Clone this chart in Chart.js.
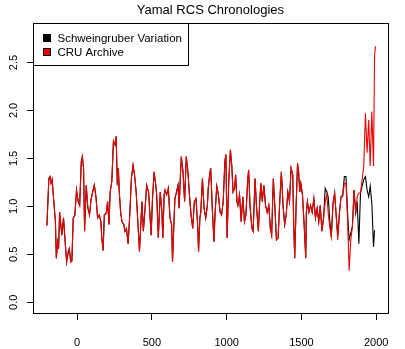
<!DOCTYPE html>
<html>
<head>
<meta charset="utf-8">
<script src="https://cdn.jsdelivr.net/npm/chart.js@4.4.0/dist/chart.umd.min.js"></script>
<style>
  html, body { margin: 0; padding: 0; background: #fff; }
  #wrap { width: 405px; height: 349px; }
</style>
</head>
<body>
<div id="wrap"><canvas id="yamal" width="405" height="349"></canvas></div>
<script>
// values (year, ring-width index)
const years = [
  -202, -189, -182, -174, -167, -156, -145, -139, -130, -124, -117, -109, -102, -91, -80, -70, -59, -52, -43, -35,
  -26, -15, -4, 7, 17, 28, 35, 43, 50, 61, 72, 83, 93, 104, 115, 126, 137, 148, 159, 165,
  174, 182, 195, 204, 213, 221, 232, 243, 254, 261, 269, 276, 282, 291, 300, 313, 319, 330, 341, 352,
  363, 374, 384, 395, 406, 417, 428, 434, 443, 456, 465, 478, 486, 495, 504, 515, 526, 532, 543, 556,
  567, 573, 582, 588, 599, 610, 621, 632, 638, 647, 654, 665, 675, 682, 691, 697, 708, 719, 730, 741,
  751, 762, 773, 784, 795, 806, 812, 821, 827, 838, 849, 860, 871, 877, 886, 893, 904, 915, 923, 934,
  945, 956, 966, 977, 988, 995, 1003, 1014, 1025, 1034, 1043, 1053, 1060, 1069, 1075, 1086, 1097, 1108, 1119, 1129,
  1140, 1147, 1156, 1169, 1177, 1190, 1199, 1212, 1221, 1229, 1238, 1249, 1260, 1271, 1282, 1292, 1301, 1312, 1323, 1333,
  1344, 1355, 1366, 1377, 1388, 1398, 1409, 1420, 1431, 1442, 1448, 1455, 1464, 1474, 1481, 1489, 1496, 1507, 1518, 1529,
  1533, 1540, 1550, 1561, 1572, 1583, 1594, 1605, 1616, 1626, 1637, 1648, 1659, 1670, 1679, 1689, 1700, 1711, 1722, 1733,
  1743, 1754, 1765, 1776, 1787, 1798, 1808, 1819, 1830, 1841, 1852, 1863, 1873, 1884, 1895, 1906, 1917, 1928, 1939, 1950,
  1960, 1971, 1982, 1989, 1995
];

const cruArchive = [
  0.80, 1.29, 1.31, 1.24, 1.28, 1.05, 0.84, 0.46, 0.63, 0.56, 0.94, 0.81, 0.70, 0.88, 0.63, 0.42, 0.53, 0.56, 0.42, 0.43,
  0.88, 0.91, 1.17, 1.05, 1.01, 1.47, 1.52, 1.40, 0.74, 1.22, 0.98, 0.91, 1.07, 1.15, 1.22, 1.10, 0.88, 0.91, 0.84, 0.67,
  0.54, 0.91, 0.93, 1.05, 0.81, 1.15, 1.26, 1.68, 1.64, 1.73, 1.22, 1.40, 1.15, 0.94, 0.84, 0.81, 0.74, 0.77, 0.61, 0.91,
  1.29, 1.43, 1.33, 1.15, 0.84, 0.53, 0.88, 1.05, 0.74, 1.01, 1.22, 1.15, 0.94, 0.70, 1.08, 1.36, 1.22, 1.12, 0.67, 1.15,
  0.94, 0.67, 1.12, 1.17, 1.12, 1.19, 0.88, 0.81, 0.42, 0.81, 1.08, 1.15, 1.22, 0.98, 1.33, 1.52, 1.36, 1.05, 1.52, 1.36,
  1.12, 0.91, 0.77, 1.05, 1.08, 0.81, 0.53, 0.88, 0.94, 1.29, 0.98, 0.88, 1.01, 1.19, 1.33, 1.40, 0.98, 0.63, 0.94, 1.21,
  1.12, 0.94, 0.91, 1.05, 1.47, 1.54, 0.67, 1.26, 1.59, 1.43, 1.15, 1.19, 1.33, 1.05, 1.01, 1.12, 0.84, 1.10, 0.84, 0.91,
  1.26, 1.38, 1.01, 0.77, 0.74, 1.29, 1.01, 0.74, 1.05, 1.24, 1.05, 1.22, 1.01, 0.94, 1.01, 0.77, 0.70, 1.29, 0.98, 0.65,
  0.67, 1.05, 1.36, 1.01, 0.81, 0.91, 1.15, 1.05, 1.40, 1.33, 0.84, 0.46, 0.98, 1.45, 1.36, 1.15, 1.24, 1.12, 0.81, 0.46,
  0.94, 1.05, 0.94, 1.01, 0.94, 1.08, 0.88, 0.98, 0.84, 1.01, 0.74, 0.88, 1.05, 1.12, 0.93, 0.79, 0.68, 1.03, 1.14, 0.89,
  0.65, 0.93, 1.10, 1.10, 1.24, 1.24, 0.89, 0.33, 0.65, 0.79, 1.17, 0.93, 1.10, 1.14, 1.14, 1.28, 1.42, 1.97, 1.56, 1.90,
  1.42, 1.99, 1.42, 2.57, 2.67
];

// Schweingruber version follows the CRU one until the late 1600s
const schweinSplitYear = 1659;
const schweinTail = [
  1.19, 1.15, 1.10, 0.86, 0.68, 1.03, 1.14, 0.89, 0.70, 0.93, 1.10, 1.12, 1.31, 1.31, 0.95, 0.65, 0.72, 0.79, 1.17, 0.93,
  1.05, 0.61, 1.14, 1.21, 1.28, 1.31, 1.17, 1.10, 1.21, 1.03, 0.58, 0.75
];

const xTicks = [0, 500, 1000, 1500, 2000];
const yTicks = [0, 0.5, 1, 1.5, 2, 2.5];
const seriesNames = ['Schweingruber Variation', 'CRU Archive'];
const seriesColors = ['#000000', '#ee0000'];

const FONT = '"Liberation Sans", Arial, Helvetica, sans-serif';
Chart.defaults.font.family = FONT;
Chart.defaults.color = '#000';

const cruPoints = years.map((yr, i) => ({ x: yr, y: cruArchive[i] }));
const splitIdx = years.indexOf(schweinSplitYear);
const schweinPoints = cruPoints.slice(0, splitIdx)
  .concat(schweinTail.map((v, i) => ({ x: years[splitIdx + i], y: v })));

// box round the plot, R style rotated y labels and the legend
const framePlugin = {
  id: 'frame',
  afterDraw(chart) {
    const { ctx, chartArea: a, scales } = chart;
    ctx.save();
    ctx.strokeStyle = '#000';
    ctx.lineWidth = 1;
    const l = Math.round(a.left) + 0.5, t = Math.round(a.top) + 0.5;
    const r = Math.round(a.right) + 0.5, b = Math.round(a.bottom) + 0.5;
    ctx.strokeRect(l, t, r - l, b - t);

    ctx.fillStyle = '#000';
    ctx.font = '11px ' + FONT;
    ctx.textAlign = 'center';
    ctx.textBaseline = 'middle';
    yTicks.forEach(v => {
      const py = scales.y.getPixelForValue(v);
      ctx.save();
      ctx.translate(14, py);
      ctx.rotate(-Math.PI / 2);
      ctx.fillText(v.toFixed(1), 0, 0);
      ctx.restore();
    });

    // legend
    const lw = 155, lh = 42;
    ctx.fillStyle = '#fff';
    ctx.fillRect(l, t, lw, lh);
    ctx.strokeRect(l, t, lw, lh);
    ctx.font = '11.5px ' + FONT;
    ctx.textAlign = 'left';
    seriesNames.forEach((name, i) => {
      const cy = t + 15 + i * 14;
      ctx.fillStyle = seriesColors[i];
      ctx.fillRect(l + 10, cy - 4, 7, 7);
      ctx.strokeStyle = '#000';
      ctx.strokeRect(l + 10, cy - 4, 7, 7);
      ctx.fillStyle = '#000';
      ctx.fillText(name, l + 24, cy);
    });
    ctx.restore();
  }
};

new Chart(document.getElementById('yamal'), {
  type: 'line',
  data: {
    datasets: [
      {
        label: seriesNames[1],
        data: cruPoints,
        borderColor: seriesColors[1],
        borderWidth: 1.1,
        pointRadius: 0,
        tension: 0,
        order: 0
      },
      {
        label: seriesNames[0],
        data: schweinPoints,
        borderColor: seriesColors[0],
        borderWidth: 1.1,
        pointRadius: 0,
        tension: 0,
        order: 1
      }
    ]
  },
  options: {
    responsive: false,
    animation: false,
    layout: { padding: { left: 0, right: 8, top: 0, bottom: 0 } },
    plugins: {
      legend: { display: false },
      tooltip: { enabled: false },
      title: {
        display: true,
        text: 'Yamal RCS Chronologies',
        fullSize: false,
        font: { size: 13, weight: 'normal' },
        padding: { top: 3, bottom: 4.4 }
      }
    },
    scales: {
      x: {
        type: 'linear',
        min: -295,
        max: 2078,
        afterBuildTicks: s => { s.ticks = xTicks.map(v => ({ value: v })); },
        afterFit: s => { s.height = 36; },
        ticks: { font: { size: 11 }, padding: 16, maxRotation: 0, autoSkip: false, callback: v => String(v) },
        grid: { drawOnChartArea: false, drawTicks: true, tickLength: 7, color: '#000' },
        border: { display: false }
      },
      y: {
        type: 'linear',
        min: -0.112,
        max: 2.912,
        afterBuildTicks: s => { s.ticks = yTicks.map(v => ({ value: v })); },
        afterFit: s => { s.width = 33; },
        ticks: { color: 'rgba(0,0,0,0)', callback: v => v.toFixed(1) },
        grid: { drawOnChartArea: false, drawTicks: true, tickLength: 6, color: '#000' },
        border: { display: false }
      }
    }
  },
  plugins: [framePlugin]
});
</script>
</body>
</html>
